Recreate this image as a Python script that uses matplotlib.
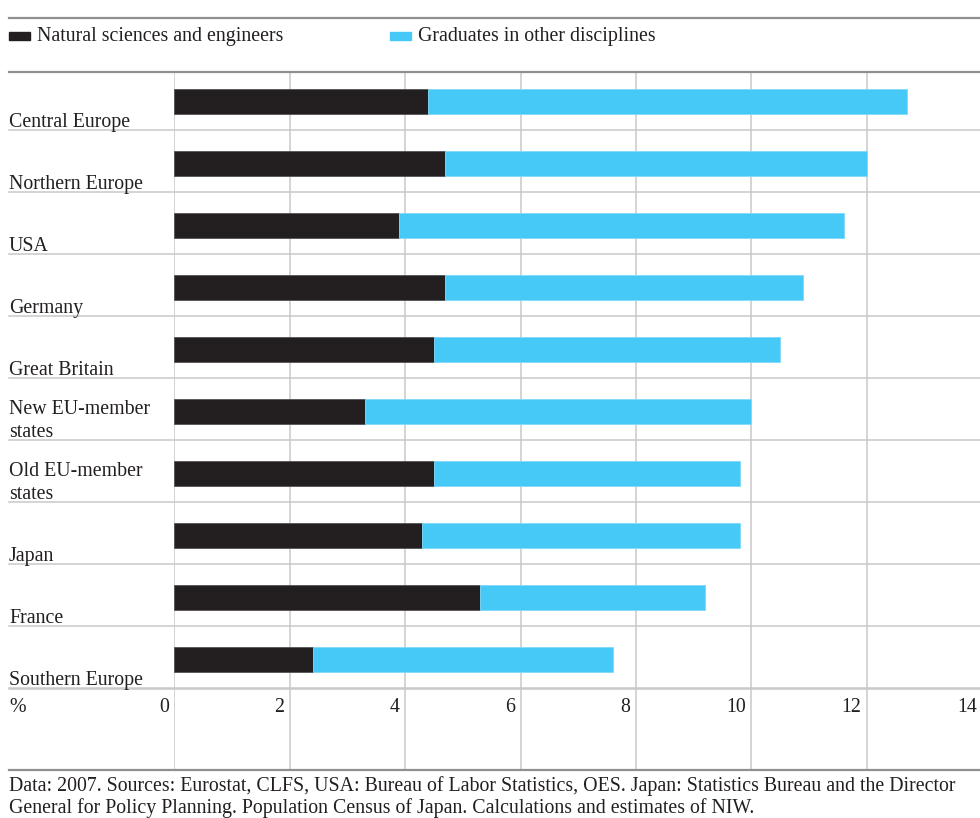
import matplotlib
matplotlib.use("Agg")
import matplotlib.pyplot as plt
import matplotlib.transforms as mtransforms
from matplotlib.lines import Line2D
from matplotlib.patches import Rectangle

# ---------------- data ----------------
regions = ["Central Europe", "Northern Europe", "USA", "Germany", "Great Britain",
           "New EU-member\nstates", "Old EU-member\nstates", "Japan", "France",
           "Southern Europe"]
natural_sciences = [4.4, 4.7, 3.9, 4.7, 4.5, 3.3, 4.5, 4.3, 5.3, 2.4]
totals = [12.7, 12.0, 11.6, 10.9, 10.5, 10.0, 9.8, 9.8, 9.2, 7.6]
other_disciplines = [t - n for t, n in zip(totals, natural_sciences)]
xticks = [0, 2, 4, 6, 8, 10, 12, 14]
series_names = ["Natural sciences and engineers", "Graduates in other disciplines"]
footer = ("Data: 2007. Sources: Eurostat, CLFS, USA: Bureau of Labor Statistics, OES. Japan: Statistics Bureau and the Director\n"
          "General for Policy Planning. Population Census of Japan. Calculations and estimates of NIW.")

# ---------------- style ----------------
BLACK = "#231f20"
BLUE = "#46c9f6"
GRID = "#c9c9cb"
DARK = "#8f8f91"
FONT = "Liberation Serif"
FS = 14.3
W, H = 980, 818

plt.rcParams["font.family"] = [FONT, "DejaVu Serif"]

fig = plt.figure(figsize=(W / 100, H / 100), dpi=100)

def fx(px):
    return px / W

def fy(py):
    return 1 - py / H

x0_px, top_px, bot_px = 174.3, 72, 770
unit = 57.7
row = 62.0
xmax = 13.9
ax = fig.add_axes([fx(x0_px), fy(bot_px), xmax * unit / W, (bot_px - top_px) / H])
ax.set_xlim(0, xmax)
y_top = -29.5 / row
ax.set_ylim(y_top + (bot_px - top_px) / row, y_top)
for s in ax.spines.values():
    s.set_visible(False)
ax.set_xticks([t for t in xticks if t <= xmax])
ax.tick_params(left=False, bottom=False, labelleft=False, labelbottom=False)
ax.set_yticks([])
ax.grid(axis="x", color=GRID, linewidth=1.1)
ax.set_axisbelow(True)

ypos = list(range(len(regions)))
bh = 25.7 / row
ax.barh(ypos, natural_sciences, height=bh, color=BLACK, edgecolor="#555355", linewidth=0.6, zorder=3)
ax.barh(ypos, other_disciplines, left=natural_sciences, height=bh, color=BLUE,
        edgecolor="#7fd9f8", linewidth=0.6, zorder=3)

# row separators and labels
blend = mtransforms.blended_transform_factory(fig.transFigure, ax.transData)
sep_off = 0.465
for i, name in enumerate(regions):
    lw = 1.1 if i < len(regions) - 1 else 1.8
    ax.add_line(Line2D([fx(9), 1.0], [i + sep_off, i + sep_off], transform=blend,
                       color=GRID, linewidth=lw, clip_on=False, zorder=2))
    off = mtransforms.offset_copy(blend, fig=fig, x=0, y=-2.0, units="dots")
    fig.text(fx(9), i + sep_off, name, transform=off, ha="left", va="bottom",
             fontsize=FS, color=BLACK, linespacing=1.3)

# x tick labels
blend_x = mtransforms.blended_transform_factory(ax.transData, fig.transFigure)
tick_tr = mtransforms.offset_copy(blend_x, fig=fig, x=-5.5, y=0, units="dots")
for t in xticks:
    ax.text(t, fy(707), str(t), transform=tick_tr, ha="right", va="center",
            fontsize=FS, color=BLACK, clip_on=False)
fig.text(fx(9), fy(707), "%", ha="left", va="center", fontsize=FS, color=BLACK)

# heavy rules
for py in (17.5, 72, 770):
    fig.add_artist(Line2D([fx(9), 1.0], [fy(py), fy(py)], color=DARK, linewidth=1.6))

# legend
legend_items = [(9, BLACK, series_names[0]), (390, BLUE, series_names[1])]
for px, col, label in legend_items:
    fig.add_artist(Rectangle((fx(px), fy(39.5)), 21 / W, 7 / H, color=col, transform=fig.transFigure))
    fig.text(fx(px + 28), fy(37), label, ha="left", va="center", fontsize=FS, color=BLACK)

# footer
fig.text(fx(9), fy(797), footer, ha="left", va="center", fontsize=FS, color=BLACK, linespacing=1.19)

fig.savefig("out.png", dpi=100)
